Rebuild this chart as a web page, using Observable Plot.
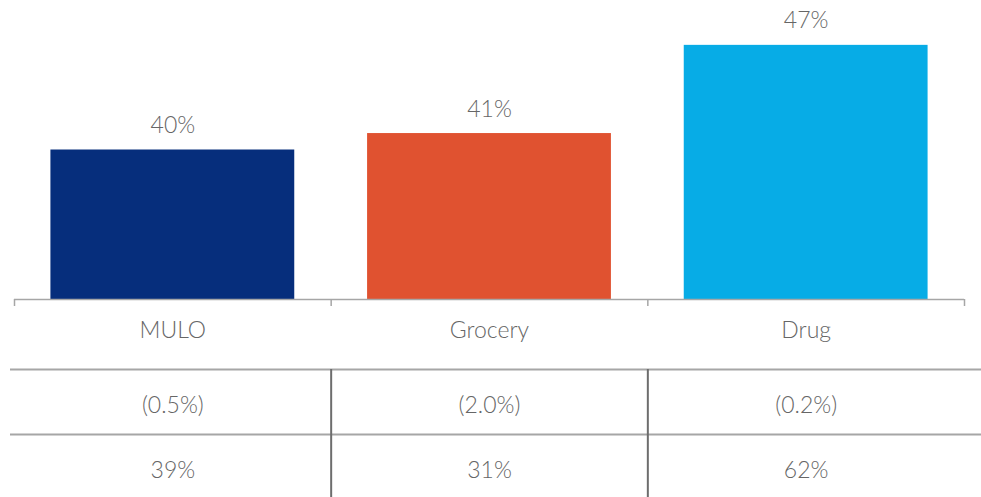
<!DOCTYPE html>
<html><head><meta charset="utf-8">
<script src="https://cdn.jsdelivr.net/npm/d3@7"></script>
<script src="https://cdn.jsdelivr.net/npm/@observablehq/plot@0.6"></script>
<style>
html,body{margin:0;padding:0;background:#fff;overflow:hidden;}
#chart svg,#table svg{display:block;}
</style></head><body><div id="chart"></div><div id="table"></div>
<script>
const categories = ["MULO", "Grocery", "Drug"];
const shares = [40.0, 41.1, 47.0];
const shareLabels = ["40%", "41%", "47%"];
const rowChange = ["(0.5%)", "(2.0%)", "(0.2%)"];
const rowShare = ["39%", "31%", "62%"];
const colors = ["#062E7C", "#E05230", "#07ACE6"];

const textColor = "#666666";
const font = "Lato, 'Open Sans', sans-serif";
const fw = 300;
const fs = 23;
const pad = 0.115;

const data = categories.map((c, i) => ({i, category: c, value: shares[i], label: shareLabels[i]}));

const chart = Plot.plot({
  width: 981, height: 368,
  marginLeft: 14, marginRight: 17, marginTop: 0, marginBottom: 69,
  style: {fontFamily: font, background: "#fff"},
  x: {type: "linear", domain: [0, categories.length], axis: null},
  y: {domain: [30, 50], axis: null},
  color: {domain: categories, range: colors},
  marks: [
    Plot.rectY(data, {x1: d => d.i + pad, x2: d => d.i + 1 - pad, y1: 30, y2: "value", fill: "category"}),
    Plot.text(data, {x: d => d.i + 0.5, y: "value", text: "label", lineAnchor: "bottom", dy: -17, fontSize: fs, fontWeight: fw, fill: textColor}),
    Plot.ruleY([30], {stroke: "#a6a6a6", strokeWidth: 1.5}),
    Plot.axisX({ticks: d3.range(categories.length + 1), tickSize: 7, tickFormat: () => "", stroke: "#a6a6a6", strokeWidth: 1.5}),
    Plot.text(data, {x: d => d.i + 0.5, frameAnchor: "bottom", text: "category", lineAnchor: "middle", dy: 31, fontSize: fs, fontWeight: fw, fill: textColor})
  ]
});
document.getElementById("chart").appendChild(chart);

const rows = [rowChange, rowShare];
const cells = rows.flatMap((r, ri) => r.map((t, ci) => ({ri, ci, text: t})));

const table = Plot.plot({
  width: 981, height: 131,
  marginLeft: 14, marginRight: 17, marginTop: 1, marginBottom: 0,
  style: {fontFamily: font, background: "#fff"},
  x: {type: "linear", domain: [0, categories.length], axis: null},
  y: {domain: [0, rows.length], reverse: true, axis: null},
  marks: [
    Plot.ruleY(d3.range(rows.length), {stroke: "#a6a6a6", strokeWidth: 2, insetLeft: -4, insetRight: -17}),
    Plot.ruleX(d3.range(1, categories.length), {stroke: "#6d6d6d", strokeWidth: 2}),
    Plot.text(cells, {x: d => d.ci + 0.5, y: d => d.ri + 0.5, text: "text", dy: 4, fontSize: fs, fontWeight: fw, fill: textColor})
  ]
});
document.getElementById("table").appendChild(table);
</script>
</body></html>
